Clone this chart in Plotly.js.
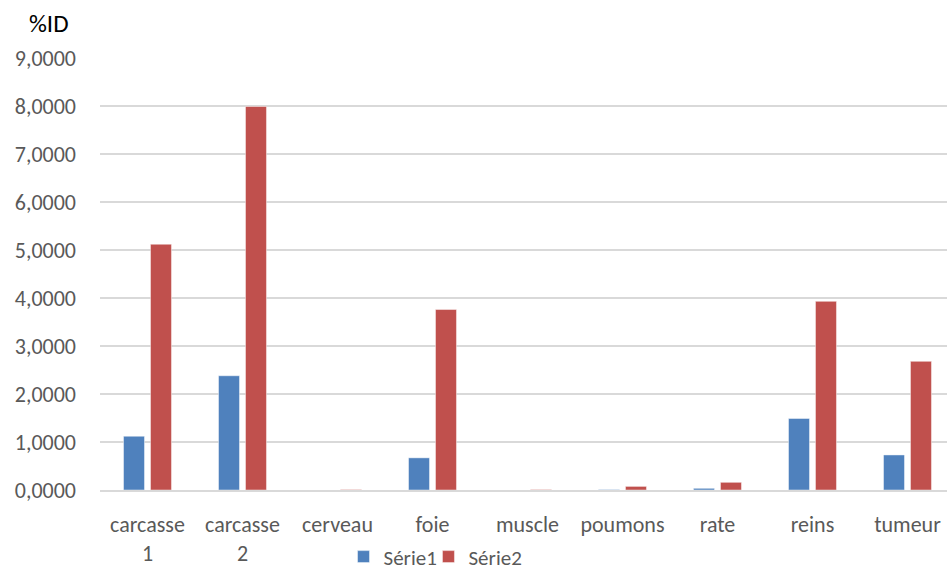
<!DOCTYPE html>
<html>
<head>
<meta charset="utf-8">
<script src="https://cdn.plot.ly/plotly-3.0.1.min.js"></script>
<style>html,body{margin:0;padding:0;background:#fff;}#chart{width:947px;height:571px;}</style>
</head>
<body>
<div id="chart"></div>
<script>
const categories = ["carcasse<br>1", "carcasse<br>2", "cerveau", "foie", "muscle", "poumons", "rate", "reins", "tumeur"];
const serie1 = [1.12, 2.38, 0.0, 0.67, 0.0, 0.01, 0.035, 1.49, 0.73];
const serie2 = [5.12, 7.99, 0.01, 3.76, 0.01, 0.075, 0.16, 3.93, 2.68];
const yTicks = [0, 1, 2, 3, 4, 5, 6, 7, 8, 9];

const font = "Carlito, Lato, 'Liberation Sans', sans-serif";

const traces = [
  {type: "bar", name: "Série1", x: categories, y: serie1, legend: "legend",
   marker: {color: "#4F81BD", line: {color: "rgba(255,255,255,0.45)", width: 1}}},
  {type: "bar", name: "Série2", x: categories, y: serie2, legend: "legend2",
   marker: {color: "#C0504D", line: {color: "rgba(255,255,255,0.45)", width: 1}}}
];

const legendFont = {family: font, size: 21, color: "#595959"};

const layout = {
  width: 947, height: 571,
  margin: {l: 100, r: 0, t: 58, b: 81, pad: 0, autoexpand: false},
  paper_bgcolor: "#fff", plot_bgcolor: "#fff",
  separators: ", ",
  barmode: "group",
  bargap: 0.432,
  bargroupgap: 0.222,
  font: {family: font, size: 22, color: "#595959"},
  xaxis: {
    type: "category",
    range: [-0.5, 8.416],
    showgrid: false, automargin: false,
    showline: true, linecolor: "#D9D9D9", linewidth: 2,
    ticks: "", ticklabelstandoff: 14,
    tickfont: {family: font, size: 22, color: "#595959"},
    fixedrange: true
  },
  yaxis: {
    range: [0, 9], automargin: false,
    tickvals: yTicks,
    tickformat: ".4f",
    showgrid: true, gridcolor: "#D9D9D9", gridwidth: 2,
    zeroline: false, showline: false,
    ticks: "", ticklabelstandoff: 23,
    tickfont: {family: font, size: 22, color: "#595959"},
    fixedrange: true
  },
  showlegend: true,
  legend: {
    orientation: "h", x: 0.2875, xanchor: "left", y: -0.155, yanchor: "middle",
    font: legendFont, itemwidth: 30, bgcolor: "rgba(0,0,0,0)"
  },
  legend2: {
    orientation: "h", x: 0.3878, xanchor: "left", y: -0.155, yanchor: "middle",
    font: legendFont, itemwidth: 30, bgcolor: "rgba(0,0,0,0)"
  },
  annotations: [{
    text: "%ID", xref: "paper", yref: "paper", x: -0.060, y: 1.079,
    xanchor: "center", yanchor: "middle", showarrow: false,
    font: {family: font, size: 25, color: "#000"}
  }]
};

Plotly.newPlot("chart", traces, layout, {displayModeBar: false, staticPlot: true});
</script>
</body>
</html>
